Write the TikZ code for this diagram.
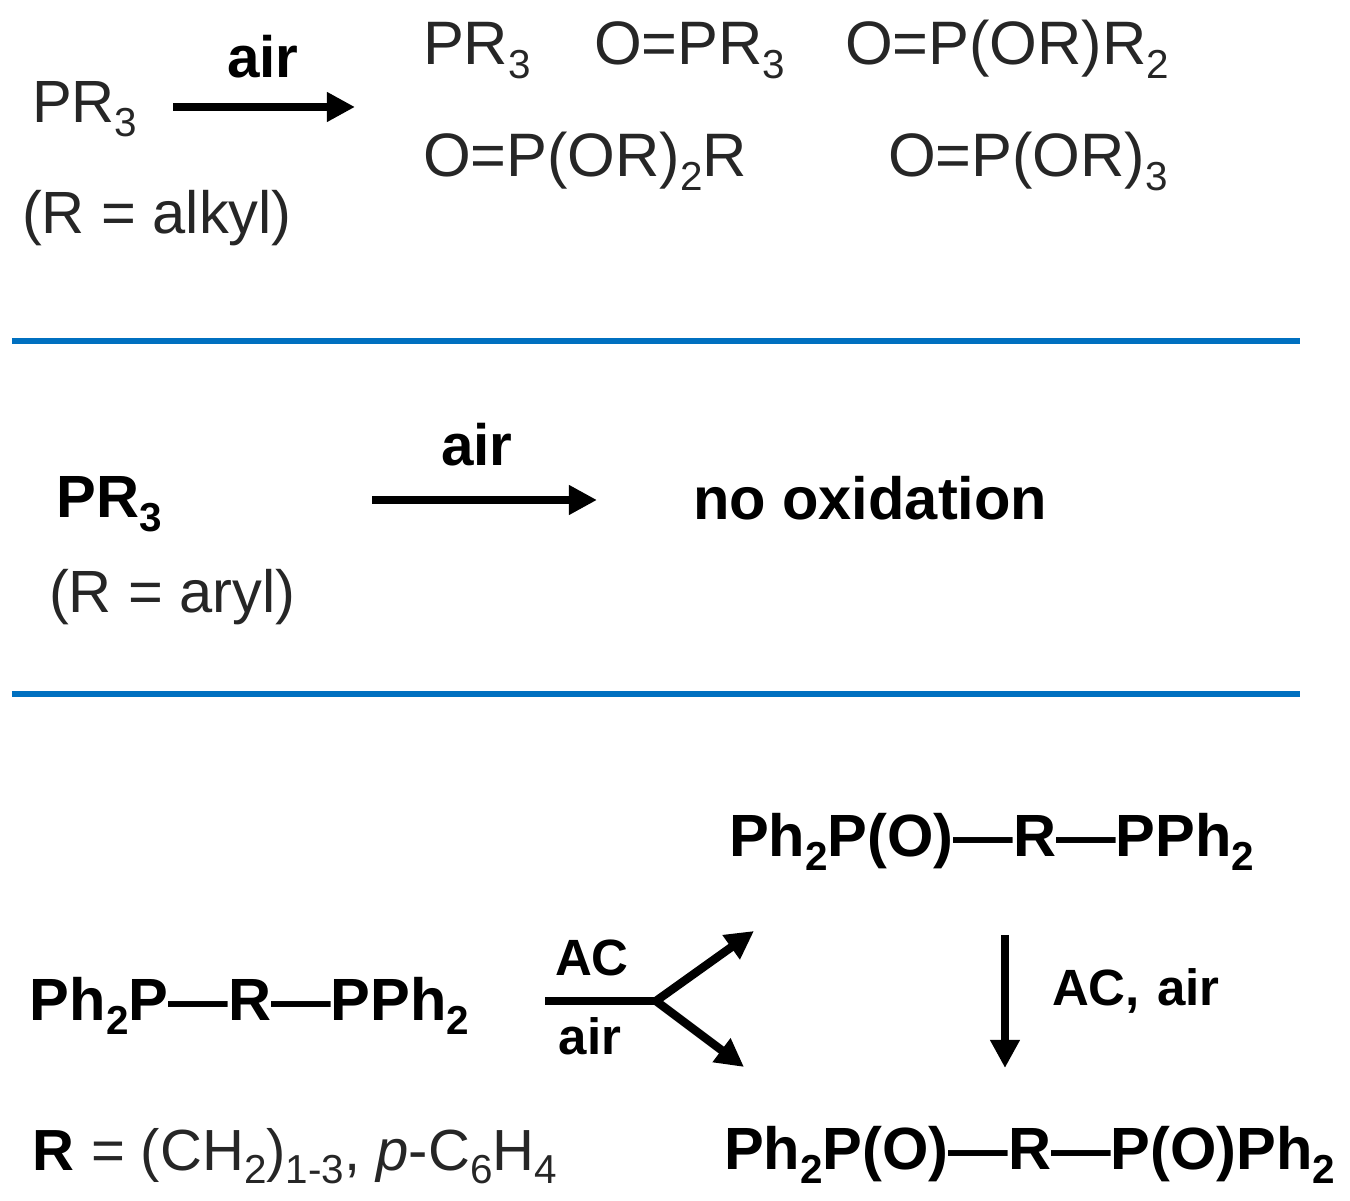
\documentclass[tikz,border=0pt]{standalone}
\usepackage{fontspec}
\setmainfont{Liberation Sans}
\usetikzlibrary{arrows.meta}
\newcommand{\sbs}[1]{\raisebox{-0.22em}{\fontsize{11.5pt}{12pt}\selectfont #1}}

\begin{document}
\begin{tikzpicture}[
    x=0.01cm, y=-0.01cm,
    chem/.style={anchor=base west, inner sep=0pt, outer sep=0pt, font=\fontsize{16.95pt}{18pt}\selectfont, text=black!85},
    chemp/.style={chem, font=\fontsize{17.45pt}{18pt}\selectfont},
    chemb/.style={anchor=base west, inner sep=0pt, outer sep=0pt, font=\fontsize{16.95pt}{18pt}\selectfont\bfseries},
    lab/.style={anchor=base, inner sep=0pt, outer sep=0pt, font=\fontsize{14.5pt}{16pt}\selectfont\bfseries},
    labbig/.style={lab, font=\fontsize{16.6pt}{18pt}\selectfont\bfseries},
    rxn/.style={line width=2.4pt, -{Triangle[length=8pt,width=8pt]}},
    rule/.style={line width=1.6pt, draw={rgb,255:red,0;green,112;blue,192}},
]
\useasboundingbox (0,0) rectangle (1350,1201);

% Top row - alkyl
\node[chem] (pr) at (32,123) {PR\sbs{3}};
\node[chem] (alkyl) at (22,234) {(R = alkyl)};
\node[labbig] (airtop) at (263,78) {air};
\coordinate (a1) at (173,107);
\coordinate (a2) at (355,107);
\draw[rxn] (a1) -- (a2);
\node[chemp] (p1) at (423,65) {PR\sbs{3}};
\node[chemp] (p2) at (594,65) {O=PR\sbs{3}};
\node[chemp] (p3) at (845,65) {O=P(OR)R\sbs{2}};
\node[chemp] (p4) at (423,177) {O=P(OR)\sbs{2}R};
\node[chemp] (p5) at (888,177) {O=P(OR)\sbs{3}};

% Blue rules
\coordinate (r1) at (12,341);
\coordinate (r2) at (1300,341);
\coordinate (r3) at (12,694);
\coordinate (r4) at (1300,694);
\draw[rule] (r1) -- (r2);
\draw[rule] (r3) -- (r4);

% Middle row - aryl
\node[chemb] (prb) at (57,518) {PR\sbs{3}};
\node[chem] (aryl) at (49,613) {(R = aryl)};
\node[labbig] (airmid) at (477,466) {air};
\coordinate (b1) at (372,500);
\coordinate (b2) at (597,500);
\draw[rxn] (b1) -- (b2);
\node[chemb] (noox) at (693,520) {no oxidation};

% Bottom - diphosphine
\node[chemb] (dp) at (30,1021) {Ph\sbs{2}P—R—PPh\sbs{2}};
\node[lab] (ac) at (592,976) {AC};
\node[lab] (airlow) at (590,1055) {air};
\coordinate (c1) at (545,1001);
\coordinate (c2) at (656,1001);
\coordinate (c3) at (754,931);
\coordinate (c4) at (744,1067);
\draw[line width=2.4pt] (c1) -- (c2);
\draw[rxn] (c2) -- (c3);
\draw[rxn] (c2) -- (c4);
\node[chemb] (mono) at (729,857) {Ph\sbs{2}P(O)—R—PPh\sbs{2}};
\node[chemb] (dio) at (724,1170) {Ph\sbs{2}P(O)—R—P(O)Ph\sbs{2}};
\coordinate (d1) at (1005,935);
\coordinate (d2) at (1005,1068);
\draw[rxn] (d1) -- (d2);
\node[lab, anchor=base west] (acair) at (1052,1006) {AC,\hspace{1pt} air};
\node[chem, font=\fontsize{16.5pt}{18pt}\selectfont] (rdef) at (33,1171) {\textcolor{black}{\textbf{R}} = (CH\sbs{2})\sbs{1-3}, \textit{p}-C\sbs{6}H\sbs{4}};
\end{tikzpicture}
\end{document}
